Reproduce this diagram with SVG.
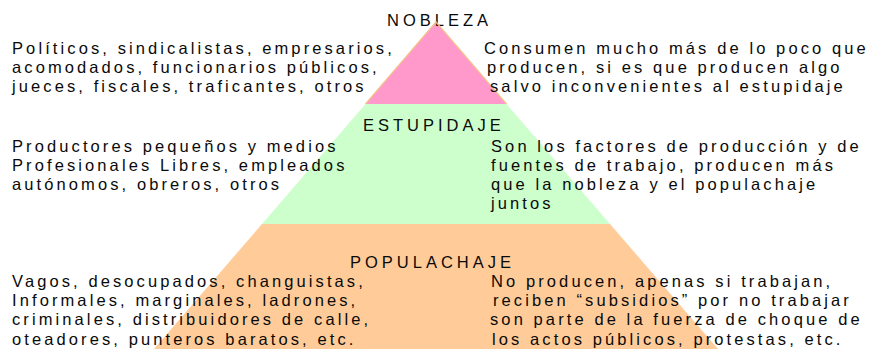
<svg xmlns="http://www.w3.org/2000/svg" width="878" height="349" viewBox="0 0 878 349">
<style>
text{font-family:"Liberation Sans",Arial,sans-serif;font-size:16.5px;fill:#0a0a0a;}
.b{letter-spacing:3.1px;}
.t{letter-spacing:4px;}
.edge{fill:none;stroke:#f3c08c;stroke-width:1.2;}
</style>
<rect width="878" height="349" fill="#ffffff"/>
<g id="populachaje">
<polygon points="262,224 610,224 718,349 154,349" fill="#ffcc99"/>
<text class="t" x="350" y="268">POPULACHAJE</text>
</g>
<g id="estupidaje">
<polygon points="365.5,104 506.5,104 610,224 262,224" fill="#ccffcc"/>
<text class="t" x="363" y="131">ESTUPIDAJE</text>
</g>
<g id="nobleza">
<polygon points="436,22 506.5,104 365.5,104" fill="#ff99cc"/>
<text class="t" x="387" y="26">NOBLEZA</text>
</g>
<g id="edges">
<polyline class="edge" points="365.5,104 436,22 506.5,104"/>
</g>
<g id="nobleza-left">
<text class="b" x="12" y="54">Políticos, sindicalistas, empresarios,</text>
<text class="b" x="12" y="73">acomodados, funcionarios públicos,</text>
<text class="b" x="12" y="92">jueces, fiscales, traficantes, otros</text>
</g>
<g id="nobleza-right">
<text class="b" x="484" y="54">Consumen mucho más de lo poco que</text>
<text class="b" x="487" y="73">producen, si es que producen algo</text>
<text class="b" x="490" y="92">salvo inconvenientes al estupidaje</text>
</g>
<g id="estupidaje-left">
<text class="b" x="12" y="152">Productores pequeños y medios</text>
<text class="b" x="12" y="171">Profesionales Libres, empleados</text>
<text class="b" x="12" y="190">autónomos, obreros, otros</text>
</g>
<g id="estupidaje-right">
<text class="b" x="491" y="152">Son los factores de producción y de</text>
<text class="b" x="491" y="171">fuentes de trabajo, producen más</text>
<text class="b" x="491" y="190">que la nobleza y el populachaje</text>
<text class="b" x="491" y="209">juntos</text>
</g>
<g id="populachaje-left">
<text class="b" x="12" y="287">Vagos, desocupados, changuistas,</text>
<text class="b" x="12" y="306">Informales, marginales, ladrones,</text>
<text class="b" x="12" y="325">criminales, distribuidores de calle,</text>
<text class="b" x="12" y="345">oteadores, punteros baratos, etc.</text>
</g>
<g id="populachaje-right">
<text class="b" x="491" y="287">No producen, apenas si trabajan,</text>
<text class="b" x="493" y="306">reciben “subsidios” por no trabajar</text>
<text class="b" x="490" y="325">son parte de la fuerza de choque de</text>
<text class="b" x="492" y="345">los actos públicos, protestas, etc.</text>
</g>
</svg>
